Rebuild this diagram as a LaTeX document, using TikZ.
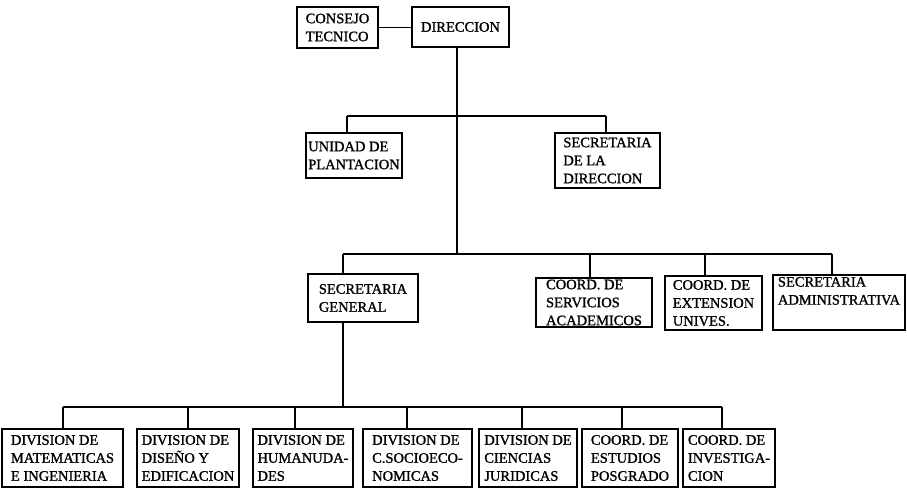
\documentclass[tikz,border=0pt]{standalone}
\usepackage{fontspec}
\newfontfamily\bxfont[FakeBold=1.2]{Liberation Serif}
\tikzset{
  orgbox/.style={draw, line width=1.3pt, inner sep=0pt, align=left,
    font=\bxfont\fontsize{14.5}{18}\selectfont},
  conn/.style={line width=1.3pt}
}
\begin{document}
\begin{tikzpicture}[x=1pt,y=-1pt]
\useasboundingbox (0,0) rectangle (907,488);
% top
\node[orgbox, minimum width=81pt, minimum height=41pt] (consejo) at (337.5,27.5) {CONSEJO\\TECNICO};
\node[orgbox, align=center, minimum width=97pt, minimum height=40pt] (direccion) at (460.5,27) {DIRECCION};
% second tier
\node[orgbox, minimum width=96pt, minimum height=45pt] (unidad) at (354,155.5) {UNIDAD DE\\PLANTACION};
\node[orgbox, minimum width=105pt, minimum height=55pt] (secdir) at (607.5,160.5) {SECRETARIA\\DE LA\\DIRECCION};
% third tier
\node[orgbox, minimum width=110pt, minimum height=48pt] (secgen) at (363,298) {SECRETARIA\\GENERAL};
\node[orgbox, minimum width=116pt, minimum height=49pt] (coordserv) at (594,302.5) {COORD. DE\\SERVICIOS\\ACADEMICOS};
\node[orgbox, minimum width=97pt, minimum height=54pt] (coordext) at (713.5,303) {COORD. DE\\EXTENSION\\UNIVES.};
\node[orgbox, minimum width=132pt, minimum height=55pt] (secadm) at (839,302.5) {SECRETARIA\\ADMINISTRATIVA\\\strut};
% bottom row
\node[orgbox, minimum width=121pt, minimum height=58pt] (b1) at (62.5,458) {DIVISION DE\\MATEMATICAS\\E INGENIERIA};
\node[orgbox, minimum width=102pt, minimum height=58pt] (b2) at (188,458) {DIVISION DE\\DISEÑO Y\\EDIFICACION};
\node[orgbox, minimum width=100pt, minimum height=58pt] (b3) at (303,458) {DIVISION DE\\HUMANUDA-\\DES};
\node[orgbox, minimum width=109pt, minimum height=58pt] (b4) at (417.5,458) {DIVISION DE\\C.SOCIOECO-\\NOMICAS};
\node[orgbox, minimum width=98pt, minimum height=58pt] (b5) at (528,458) {DIVISION DE\\CIENCIAS\\JURIDICAS};
\node[orgbox, minimum width=96pt, minimum height=58pt] (b6) at (630,458) {COORD. DE\\ESTUDIOS\\POSGRADO};
\node[orgbox, minimum width=92pt, minimum height=58pt] (b7) at (729,458) {COORD. DE\\INVESTIGA-\\CION};
% junction coordinates
\coordinate (h1l) at (347,116);
\coordinate (h1r) at (606,116);
\coordinate (j2) at (457,254);
\coordinate (h2l) at (343,254);
\coordinate (d2) at (590,254);
\coordinate (d3) at (705,254);
\coordinate (h2r) at (832,254);
\coordinate (h3j) at (343,407);
\coordinate (e1) at (63,407);
\coordinate (e2) at (188,407);
\coordinate (e3) at (295,407);
\coordinate (e4) at (407,407);
\coordinate (e5) at (522,407);
\coordinate (e6) at (622,407);
\coordinate (e7) at (722,407);
% connectors
\draw[conn] (consejo.east) -- (consejo.east -| direccion.west);
\draw[conn] (direccion.south -| j2) -- (j2);
\draw[conn] (h1l) -- (h1r);
\draw[conn] (h1l) -- (h1l |- unidad.north);
\draw[conn] (h1r) -- (h1r |- secdir.north);
\draw[conn] (h2l) -- (h2r);
\draw[conn] (h2l) -- (h2l |- secgen.north);
\draw[conn] (d2) -- (d2 |- coordserv.north);
\draw[conn] (d3) -- (d3 |- coordext.north);
\draw[conn] (h2r) -- (h2r |- secadm.north);
\draw[conn] (secgen.south -| h3j) -- (h3j);
\draw[conn] (e1) -- (e7);
\draw[conn] (e1) -- (e1 |- b1.north);
\draw[conn] (e2) -- (e2 |- b2.north);
\draw[conn] (e3) -- (e3 |- b3.north);
\draw[conn] (e4) -- (e4 |- b4.north);
\draw[conn] (e5) -- (e5 |- b5.north);
\draw[conn] (e6) -- (e6 |- b6.north);
\draw[conn] (e7) -- (e7 |- b7.north);
\end{tikzpicture}
\end{document}
